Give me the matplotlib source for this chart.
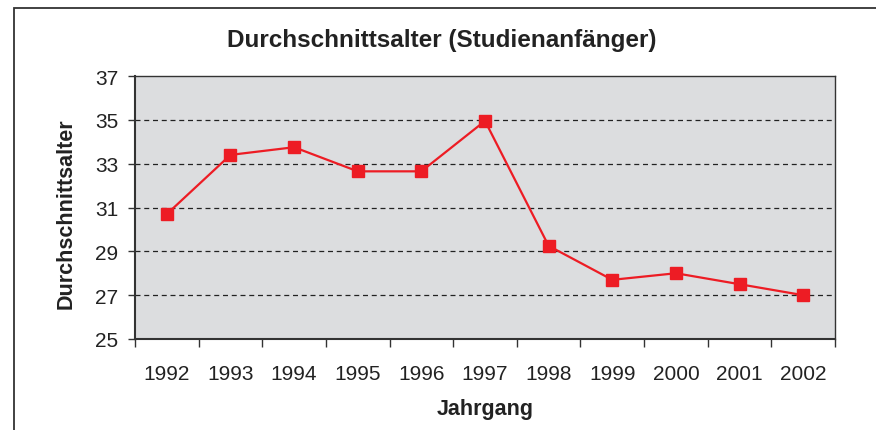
import matplotlib.pyplot as plt
import matplotlib.patches as patches

# Data
jahrgang = ['1992', '1993', '1994', '1995', '1996', '1997',
            '1998', '1999', '2000', '2001', '2002']
alter = [30.7, 33.4, 33.75, 32.65, 32.65, 34.95, 29.25, 27.7, 28.0, 27.5, 27.0]
y_ticks = [25, 27, 29, 31, 33, 35, 37]

plt.rcParams['font.family'] = ['Liberation Sans', 'DejaVu Sans']

W, H = 876, 431
fig = plt.figure(figsize=(W / 100, H / 100), dpi=100)
ax = fig.add_axes([135 / W, 91 / H, 700 / W, 263 / H])

# outer frame (only left and top edges are visible in the crop)
frame = patches.Rectangle((14 / W, -0.1), 1.2, 1.1 - 9 / H,
                          transform=fig.transFigure, fill=False,
                          edgecolor='#333333', linewidth=1.3, clip_on=False)
fig.patches.append(frame)

ax.set_facecolor('#dcdddf')
x = list(range(len(jahrgang)))
ax.plot(x, alter, color='#ed1c24', linewidth=1.6, marker='s',
        markersize=9, markerfacecolor='#ed1c24', markeredgecolor='#ed1c24',
        zorder=3)

# dashed gridlines at the inner ticks
for v in y_ticks[1:-1]:
    ax.axhline(v, color='#222222', linestyle=(0, (4, 3)), linewidth=0.9, zorder=1)

ax.set_xlim(-0.5, len(jahrgang) - 0.5)
ax.set_ylim(25, 37)
ax.set_yticks(y_ticks)
# category axis: ticks between categories, labels centred
ax.set_xticks([i - 0.5 for i in range(len(jahrgang) + 1)])
ax.set_xticklabels([])
ax.set_xticks(x, minor=True)
ax.set_xticklabels(jahrgang, minor=True)
ax.tick_params(axis='x', which='major', length=6, width=1, color='#333333')
ax.tick_params(axis='x', which='minor', length=0, pad=18, labelsize=15, labelcolor='#222222')
ax.tick_params(axis='y', length=5, width=1, color='#333333', pad=7,
               labelsize=15, labelcolor='#222222')

for side in ['left', 'bottom', 'right', 'top']:
    ax.spines[side].set_color('#333333')
    ax.spines[side].set_linewidth(1.0)
ax.spines['left'].set_linewidth(1.5)
ax.spines['bottom'].set_linewidth(1.5)

fig.text(442 / W, 1 - 40 / H, 'Durchschnittsalter (Studienanfänger)', fontsize=17.5,
         fontweight='bold', color='#222222', ha='center', va='center')
fig.text(485 / W, 1 - 410 / H, 'Jahrgang', fontsize=15.5, fontweight='bold',
         color='#222222', ha='center', va='center')
fig.text(66 / W, 1 - 214 / H, 'Durchschnittsalter', fontsize=15.5, fontweight='bold',
         color='#222222', ha='center', va='center', rotation=90)

fig.savefig('out.png', dpi=100)
